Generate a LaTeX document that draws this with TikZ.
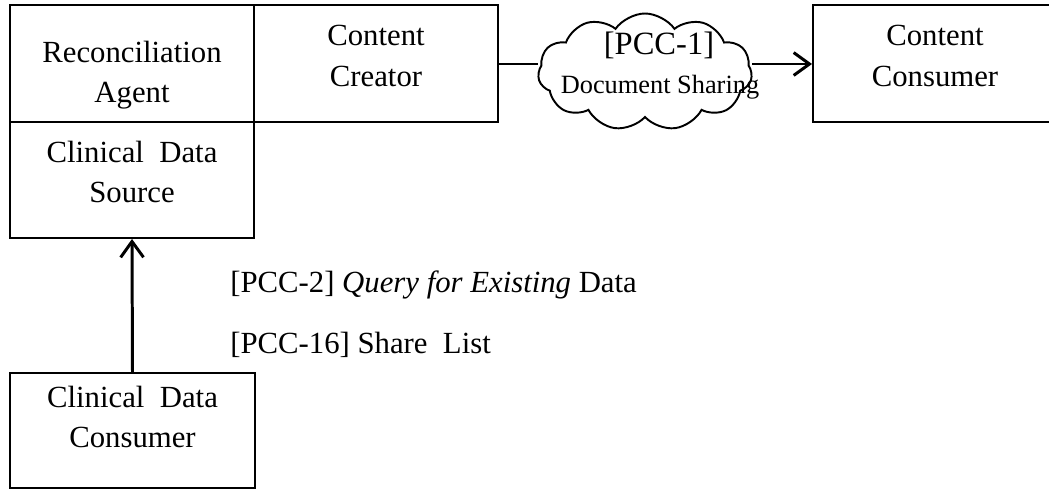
\documentclass[tikz,border=0pt]{standalone}
\usepackage{fontspec}
\setmainfont{Liberation Serif}
\usetikzlibrary{arrows.meta, shapes.symbols}

\begin{document}
\begin{tikzpicture}[x=0.02cm, y=-0.02cm,
	box/.style={draw, line width=1.1pt, rectangle, inner sep=0pt},
	txt/.style={align=center, font=\fontsize{17.5}{22.8}\selectfont},
	flow/.style={line width=1.7pt, -{Straight Barb[length=9pt, width=13pt, line width=1.7pt]}}]
	\useasboundingbox (0,0) rectangle (1049,489);
	\clip (0,0) rectangle (1049,489);
	% Acteurs
	\node[box, minimum width=244*0.02cm, minimum height=117*0.02cm] (ra) at (132,63.5) {};
	\node[box, minimum width=244*0.02cm, minimum height=117*0.02cm] (cc) at (376,63.5) {};
	\node[box, minimum width=244*0.02cm, minimum height=116*0.02cm] (cds) at (132,180) {};
	\node[box, minimum width=260*0.02cm, minimum height=117*0.02cm] (ccons) at (943,63.5) {};
	\node[box, minimum width=245*0.02cm, minimum height=115*0.02cm] (cdc) at (132.5,430.5) {};
	\node[txt] (ratxt) at (132,75) {Reconciliation\\Agent};
	\node[txt] (cctxt) at (376,56) {Content\\Creator};
	\node[txt] (cdstxt) at (132,172) {Clinical\enspace Data\\Source};
	\node[txt] (cconstxt) at (935,56) {Content\\Consumer};
	\node[txt] (cdctxt) at (132.5,417) {Clinical\enspace Data\\Consumer};
	% Transactions
	\node[draw, line width=1.1pt, cloud, cloud puffs=11, cloud puff arc=110, aspect=1.8,
		minimum width=214*0.02cm, minimum height=117*0.02cm, inner sep=0pt] (share) at (645,72) {};
	\draw[line width=1.7pt] (cc.east |- 0,64) -- (share.west |- 0,64);
	\draw[flow] (share.east |- 0,64) -- (ccons.west |- 0,64);
	\node[font=\fontsize{18.5}{20}\selectfont] (pcc1) at (659,45) {[PCC-1]};
	\node[font=\fontsize{15}{16}\selectfont] (pcc1txt) at (660,87) {Document Sharing};
	\draw[flow] (cdc.north) -- (cds.south);
	\node[txt, anchor=west, inner sep=0pt] (pcc2) at (230,285) {[PCC-2] \textit{Query for Existing} Data};
	\node[txt, anchor=west, inner sep=0pt] (pcc16) at (230,345) {[PCC-16] Share\enspace List};
\end{tikzpicture}
\end{document}
